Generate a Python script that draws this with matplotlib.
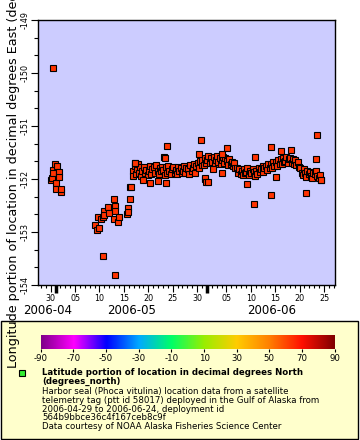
import numpy as np
import pandas as pd
import matplotlib
matplotlib.use('Agg')
import matplotlib.pyplot as plt
import matplotlib.dates as mdates
import matplotlib.transforms as mtransforms
from matplotlib.ticker import MultipleLocator, FuncFormatter
from matplotlib.colors import LinearSegmentedColormap
from matplotlib.patches import Rectangle

plt.rcParams['axes.unicode_minus'] = False

# days since 2006-04-30 00:00, longitude (degrees_east)
start_day = [0.12, 0.27, 0.47, 0.47, 0.53, 0.82, 1.14, 1.14, 1.29, 1.63, 1.63, 2.04, 2.04]
start_lon = [-152.02, -151.98, -151.83, -151.89, -149.91, -151.72, -152.08, -152.19,
             -151.75, -151.86, -151.96, -152.24, -152.18]

mid_day = [8.98, 9.51, 9.65, 9.80, 10.33, 10.67, 10.67, 10.82, 11.02, 11.84, 11.90, 13.06,
           13.06, 13.27, 13.27, 13.27, 13.88, 14.08, 15.63, 15.78, 15.92, 16.18, 16.33, 16.39]
mid_lon = [-152.87, -152.96, -152.72, -152.92, -152.75, -152.71, -153.45, -152.60, -152.68,
           -152.52, -152.65, -152.38, -152.75, -152.50, -152.60, -153.81, -152.81, -152.72,
           -152.66, -152.55, -152.62, -152.38, -152.16, -152.16]

band_day = [16.8, 16.9, 17.2, 17.4, 17.7, 17.9,
            18.1, 18.3, 18.6, 18.8, 19.1, 19.3, 19.6, 19.9,
            20.1, 20.3, 20.6, 20.8, 21.1, 21.4, 21.6, 21.9,
            22.1, 22.3, 22.6, 22.9, 23.1, 23.4, 23.6, 23.8,
            24.1, 24.3, 24.6, 24.9, 25.1, 25.4, 25.6, 25.8,
            26.1, 26.3, 26.6, 26.9, 27.1, 27.4, 27.6, 27.8,
            28.1, 28.3, 28.6, 28.9, 29.1, 29.4, 29.6, 29.8,
            30.1, 30.3, 30.6, 30.9, 31.1, 31.4, 31.6, 31.8,
            32.1, 32.3, 32.6, 32.9, 33.1, 33.4, 33.6, 33.8,
            34.1, 34.3, 34.6, 34.9, 35.1, 35.4, 35.6, 35.8,
            36.1, 36.3, 36.6, 36.9, 37.1, 37.4, 37.6, 37.8,
            38.1, 38.3, 38.6, 38.9, 39.1, 39.4, 39.6, 39.8,
            40.1, 40.3, 40.6, 40.9, 41.1, 41.4, 41.6, 41.8,
            42.1, 42.3, 42.6, 42.9, 43.1, 43.4, 43.6, 43.8,
            44.1, 44.3, 44.6, 44.9, 45.1, 45.4, 45.6, 45.8,
            46.1, 46.3, 46.6, 46.9, 47.1, 47.4, 47.6, 47.8,
            48.1, 48.3, 48.6, 48.9, 49.1, 49.4, 49.6, 49.8,
            50.1, 50.3, 50.6, 50.9, 51.1, 51.4, 51.6, 51.8,
            52.1, 52.3, 52.6, 52.9, 53.1, 53.4, 53.6, 53.8,
            54.1, 54.3, 54.6, 54.9, 55.1, 55.4]
band_lon = [-151.84, -151.95, -151.76, -151.90, -151.82, -151.72,
            -151.88, -151.78, -151.94, -151.84, -151.77, -151.89, -151.83, -151.92,
            -151.85, -151.76, -151.90, -151.82, -151.78, -151.88, -151.74, -151.84,
            -151.90, -151.79, -151.85, -151.77, -151.83, -151.92, -151.78, -151.88,
            -151.75, -151.84, -151.90, -151.82, -151.78, -151.88, -151.83, -151.91,
            -151.77, -151.85, -151.79, -151.89, -151.84, -151.76, -151.88, -151.80,
            -151.82, -151.90, -151.74, -151.84, -151.80, -151.72, -151.88, -151.76,
            -151.70, -151.80, -151.66, -151.74, -151.64, -151.74, -151.60, -151.70,
            -151.64, -151.56, -151.70, -151.60, -151.67, -151.58, -151.72, -151.64,
            -151.56, -151.68, -151.61, -151.72, -151.64, -151.58, -151.70, -151.61,
            -151.66, -151.74, -151.63, -151.71, -151.68, -151.76, -151.70, -151.80,
            -151.80, -151.88, -151.81, -151.90, -151.84, -151.92, -151.81, -151.88,
            -151.86, -151.79, -151.92, -151.84, -151.89, -151.81, -151.86, -151.94,
            -151.84, -151.90, -151.79, -151.87, -151.82, -151.76, -151.87, -151.80,
            -151.75, -151.83, -151.72, -151.80, -151.71, -151.79, -151.68, -151.76,
            -151.67, -151.75, -151.64, -151.72, -151.63, -151.71, -151.60, -151.68,
            -151.66, -151.58, -151.70, -151.63, -151.61, -151.69, -151.63, -151.71,
            -151.65, -151.73, -151.67, -151.78, -151.80, -151.88, -151.92, -151.82,
            -151.89, -151.96, -151.84, -151.91, -151.86, -151.94, -151.98, -151.88,
            -151.91, -151.84, -151.95, -151.99, -151.92, -152.01]

stray_day = [17.20, 17.35, 18.90, 20.27, 21.96, 23.18, 23.33, 23.67, 23.88, 30.47, 30.82,
             31.63, 31.69, 31.90, 32.31, 33.18, 35.10, 35.10, 36.12, 40.20, 41.69, 41.90,
             45.10, 45.10, 46.12, 47.14, 49.18, 52.24, 54.41, 54.61, 55.31]
stray_lon = [-151.69, -151.69, -152.02, -152.08, -152.03, -151.59, -151.60, -152.07, -151.38,
             -151.52, -151.26, -152.00, -151.98, -152.06, -152.05, -151.81, -151.53, -151.89,
             -151.41, -152.10, -152.48, -151.58, -151.39, -152.31, -151.96, -151.48, -151.45,
             -152.26, -151.62, -151.17, -152.01]

cbar_ticks = [-90, -70, -50, -30, -10, 10, 30, 50, 70, 90]
cbar_colors = ['#80008a', '#ff00ff', '#0000ff', '#00aaff', '#00ff66',
               '#99ee00', '#ffcc00', '#ff8000', '#ff1000', '#800000']

legend_lines = ['Latitude portion of location in decimal degrees North',
                '(degrees_north)',
                'Harbor seal (Phoca vitulina) location data from a satellite',
                'telemetry tag (ptt id 58017) deployed in the Gulf of Alaska from',
                '2006-04-29 to 2006-06-24, deployment id',
                '564b9bbce36c4f167ceb8c9f',
                'Data courtesy of NOAA Alaska Fisheries Science Center']

base = pd.Timestamp('2006-04-30')
W, H = 360, 440


def fx(px):
    return px / W


def fy(py):
    return 1 - py / H


fig = plt.figure(figsize=(3.6, 4.4), dpi=100)

# legend box behind everything
fig.patches.append(Rectangle((fx(1), fy(438.5)), 357 / W, (438.5 - 320.5) / H,
                             transform=fig.transFigure, fc='#ffffcc', ec='black', lw=1.0, zorder=-5))

ax = fig.add_axes([fx(38), fy(285), (335 - 38) / W, (285 - 20) / H])
ax.set_facecolor('#ccccff')

days = start_day + mid_day + band_day + stray_day
lons = start_lon + mid_lon + band_lon + stray_lon
t = base + pd.to_timedelta(np.array(days), unit='D')
ax.plot(t, lons, 's', ms=5, mfc='#ff3300', mec='black', mew=0.8, ls='none')

ax.set_ylim(-154, -149)
ax.set_xlim(base + pd.Timedelta(days=-2.6), base + pd.Timedelta(days=58.25))

ax.yaxis.set_major_locator(MultipleLocator(1))
ax.yaxis.set_minor_locator(MultipleLocator(1 / 3))
ax.yaxis.set_major_formatter(FuncFormatter(lambda v, p: '%d' % round(v)))
ax.tick_params(axis='y', which='major', labelrotation=90, labelsize=5.8, length=5, width=0.8, pad=1)
ax.tick_params(axis='y', which='minor', length=3, width=0.8)
for lab in ax.get_yticklabels():
    lab.set_va('center')

ax.xaxis.set_major_locator(mdates.DayLocator(bymonthday=[1, 5, 10, 15, 20, 25, 30]))
ax.xaxis.set_minor_locator(mdates.DayLocator())
ax.xaxis.set_major_formatter(FuncFormatter(
    lambda v, p: '' if mdates.num2date(v).day == 1 else mdates.num2date(v).strftime('%d')))
ax.tick_params(axis='x', which='major', labelsize=5.8, length=5, width=0.8, pad=1.5)
ax.tick_params(axis='x', which='minor', length=2.5, width=0.8)
for s in ['top', 'right', 'left', 'bottom']:
    ax.spines[s].set_linewidth(1.0)

fig.canvas.draw()
for tk in ax.xaxis.get_major_ticks():
    if mdates.num2date(tk.get_loc()).day == 1:
        tk.tick1line.set_markeredgewidth(2.5)
        tk.tick1line.set_markersize(6)

# month labels under the day numbers
trans = mtransforms.blended_transform_factory(ax.transData, fig.transFigure)
for m_txt, m_day in [('2006-04', -0.7), ('2006-05', 16.5), ('2006-06', 45.2)]:
    ax.text(base + pd.Timedelta(days=m_day), fy(311), m_txt, transform=trans,
            ha='center', va='center', fontsize=8.5, clip_on=False)

# colour bar
cmap = LinearSegmentedColormap.from_list('rb', cbar_colors)
cax = fig.add_axes([fx(40.7), fy(349), (334.7 - 40.7) / W, 14 / H])
grad = np.linspace(-90, 90, 256).reshape(1, -1)
cax.imshow(grad, aspect='auto', cmap=cmap, extent=[-90, 90, 0, 1])
cax.set_yticks([])
cax.set_xticks(cbar_ticks)
cax.tick_params(axis='x', labelsize=6.2, length=2.5, width=0.8, pad=1)
for s in cax.spines.values():
    s.set_visible(False)

fig.patches.append(Rectangle((fx(19), fy(376)), 6 / W, 6 / H, transform=fig.transFigure,
                             fc='#33ee33', ec='black', lw=0.8, zorder=3))
line_y = [372.7, 381.7, 391, 400, 409.3, 417.7, 426.7]
for i, (txt, yy) in enumerate(zip(legend_lines, line_y)):
    fig.text(fx(42), fy(yy), txt, ha='left', va='center', fontsize=6.2,
             fontweight='bold' if i < 2 else 'normal')

# axis title, long enough to run off the top like the original
fig.text(fx(17.5), fy(368), 'Longitude portion of location in decimal degrees East (degrees_east)',
         rotation=90, rotation_mode='anchor', ha='left', va='baseline', fontsize=9.2, zorder=5)

fig.savefig('out.png', dpi=100)
